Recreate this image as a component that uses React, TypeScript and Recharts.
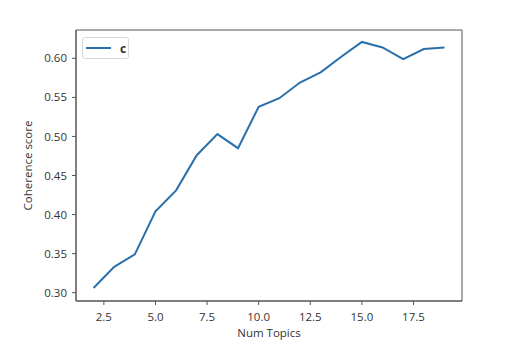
import React from "react";
import {
  LineChart,
  Line,
  XAxis,
  YAxis,
  Legend,
  ReferenceArea,
} from "recharts";

const numTopics = [2, 3, 4, 5, 6, 7, 8, 9, 10, 11, 12, 13, 14, 15, 16, 17, 18, 19];
const coherence = [
  0.306, 0.333, 0.349, 0.404, 0.431, 0.476, 0.503, 0.485, 0.538,
  0.549, 0.569, 0.582, 0.602, 0.621, 0.614, 0.599, 0.612, 0.614,
];
const xTicks = [2.5, 5.0, 7.5, 10.0, 12.5, 15.0, 17.5];
const yTicks = [0.3, 0.35, 0.4, 0.45, 0.5, 0.55, 0.6];

const X_DOMAIN: [number, number] = [1.15, 19.85];
const Y_DOMAIN: [number, number] = [0.2893, 0.6363];

const font = "'Open Sans', sans-serif";
const textColor = "#333";
const spine = "#555";
const lineColor = "#2b6faa";

function LegendBox() {
  return (
    <div
      style={{
        display: "flex",
        alignItems: "center",
        border: "1px solid #d8d8d8",
        borderRadius: 3,
        background: "white",
        width: 47,
        height: 22,
        boxSizing: "border-box",
        paddingLeft: 3,
        fontFamily: font,
        fontSize: 12,
        color: textColor,
      }}
    >
      <svg width={26} height={6} style={{ display: "block" }}>
        <line x1={0} y1={3} x2={25} y2={3} stroke={lineColor} strokeWidth={2} />
      </svg>
      <span style={{ marginLeft: 8, fontWeight: "bold" }}>c</span>
    </div>
  );
}

export default function App() {
  const data = numTopics.map((n, i) => ({ n, c: coherence[i] }));

  return (
    <div style={{ position: "absolute", left: 0, top: 0, background: "white" }}>
      <LineChart
        width={509}
        height={360}
        data={data}
        margin={{ top: 30, right: 47, left: 0, bottom: 23 }}
        style={{ fontFamily: font }}
      >
        <XAxis
          dataKey="n"
          type="number"
          domain={X_DOMAIN}
          ticks={xTicks}
          allowDataOverflow
          height={36}
          tickSize={4}
          tickMargin={8}
          tickFormatter={(v: number) => v.toFixed(1)}
          tick={{ fontSize: 11.5, fill: textColor }}
          axisLine={{ stroke: spine }}
          tickLine={{ stroke: spine }}
          label={{
            value: "Num Topics",
            position: "insideBottom",
            offset: 0,
            fill: textColor,
            style: { fontSize: 11.5, fill: textColor },
          }}
        />
        <YAxis
          type="number"
          domain={Y_DOMAIN}
          ticks={yTicks}
          allowDataOverflow
          width={76}
          tickSize={4}
          tickMargin={5}
          tickFormatter={(v: number) => v.toFixed(2)}
          tick={{ fontSize: 11.5, fill: textColor }}
          axisLine={{ stroke: spine }}
          tickLine={{ stroke: spine }}
          label={{
            value: "Coherence score",
            angle: -90,
            position: "insideLeft",
            offset: 28,
            fill: textColor,
            style: { fontSize: 11.5, fill: textColor, textAnchor: "middle" },
          }}
        />
        <ReferenceArea
          x1={X_DOMAIN[0]}
          x2={X_DOMAIN[1]}
          y1={Y_DOMAIN[0]}
          y2={Y_DOMAIN[1]}
          fill="none"
          stroke={spine}
          strokeWidth={1}
          ifOverflow="visible"
        />
        <Legend
          layout="horizontal"
          verticalAlign="middle"
          align="center"
          content={() => <LegendBox />}
          wrapperStyle={{ position: "absolute", left: 82, top: 37, width: "auto" }}
        />
        <Line
          type="linear"
          dataKey="c"
          name="c"
          stroke={lineColor}
          strokeWidth={2}
          dot={false}
          isAnimationActive={false}
        />
      </LineChart>
    </div>
  );
}
